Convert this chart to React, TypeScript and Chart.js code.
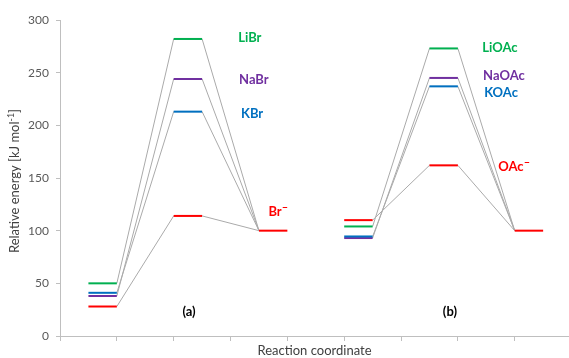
import React, { useEffect, useRef } from "react";
import { Chart, registerables } from "chart.js";

Chart.register(...registerables);

// ---- data ----
const speciesA = ["LiBr", "NaBr", "KBr", "Br"];
const speciesB = ["LiOAc", "NaOAc", "KOAc", "OAc"];
const anionSup = [false, false, false, true];
const reactantA = [50, 38, 41, 28];
const transitionA = [282, 244, 213, 114];
const productA = 100;
const reactantB = [104, 93, 94.5, 110];
const transitionB = [273, 245, 237, 162];
const productB = 100;
const colors = ["#00b050", "#7030a0", "#0070c0", "#ff0000"];
const yTickValues = [0, 50, 100, 150, 200, 250, 300];
const xTickValues = [0, 1, 2, 3, 4, 5, 6, 7, 8];

// stage extents along reaction coordinate (reactant, TS, product)
const stagesA = [[0.5, 1], [2, 2.5], [3.5, 4]];
const stagesB = [[5, 5.5], [6.5, 7], [8, 8.5]];

// label anchors (data units)
const labelXA = [3.34, 3.41, 3.38, 3.84];
const labelYA = [283, 243, 211, 118];
const labelXB = [7.74, 7.81, 7.76, 7.99];
const labelYB = [274, 247, 231, 161];
const panelX = [2.27, 6.86];
const panelY = [23, 23];
const panelText = ["(a)", "(b)"];

const FONT = "Lato, 'Open Sans', sans-serif";

function buildDatasets() {
  const ds: any[] = [];
  const groups = [
    { stages: stagesA, r: reactantA, t: transitionA, p: productA },
    { stages: stagesB, r: reactantB, t: transitionB, p: productB },
  ];
  groups.forEach((g) => {
    for (let i = 0; i < 4; i++) {
      ds.push({
        data: [
          { x: g.stages[0][0], y: g.r[i] },
          { x: g.stages[0][1], y: g.r[i] },
        ],
        borderColor: colors[i],
        borderWidth: 2,
        showLine: true,
        pointRadius: 0,
        order: i === 2 ? 0 : 1,
      });
      ds.push({
        data: [
          { x: g.stages[1][0], y: g.t[i] },
          { x: g.stages[1][1], y: g.t[i] },
        ],
        borderColor: colors[i],
        borderWidth: 2,
        showLine: true,
        pointRadius: 0,
        order: 1,
      });
    }
    ds.push({
      data: [
        { x: g.stages[2][0], y: g.p },
        { x: g.stages[2][1], y: g.p },
      ],
      borderColor: colors[3],
      borderWidth: 2,
      showLine: true,
      pointRadius: 0,
      order: 1,
    });
    for (let i = 0; i < 4; i++) {
      ds.push({
        data: [
          { x: g.stages[0][1], y: g.r[i] },
          { x: g.stages[1][0], y: g.t[i] },
          { x: g.stages[1][1], y: g.t[i] },
          { x: g.stages[2][0], y: g.p },
        ],
        borderColor: "#aaaaaa",
        borderWidth: 1,
        showLine: true,
        pointRadius: 0,
        order: 5,
      });
    }
  });
  return ds;
}

function drawSupText(
  ctx: CanvasRenderingContext2D,
  text: string,
  sup: string,
  cx: number,
  cy: number,
  size: number,
  bold: boolean,
  color: string,
  supSize: number,
  supRaise: number
) {
  const w = bold ? "bold " : "";
  ctx.font = `${w}${size}px ${FONT}`;
  const mw = ctx.measureText(text).width;
  ctx.font = `${w}${supSize}px ${FONT}`;
  const sw = sup ? ctx.measureText(sup).width : 0;
  const total = mw + sw;
  const x0 = cx - total / 2;
  ctx.fillStyle = color;
  ctx.textAlign = "left";
  ctx.textBaseline = "middle";
  ctx.font = `${w}${size}px ${FONT}`;
  ctx.fillText(text, x0, cy);
  if (sup) {
    ctx.font = `${w}${supSize}px ${FONT}`;
    ctx.fillText(sup, x0 + mw, cy - supRaise);
  }
}

const textPlugin = {
  id: "energyLabels",
  afterDraw(chart: any) {
    const ctx = chart.ctx as CanvasRenderingContext2D;
    const xs = chart.scales.x;
    const ys = chart.scales.y;
    ctx.save();
    for (let i = 0; i < 4; i++) {
      drawSupText(ctx, speciesA[i], anionSup[i] ? "–" : "",
        xs.getPixelForValue(labelXA[i]), ys.getPixelForValue(labelYA[i]),
        13, true, colors[i], 11, 4);
      drawSupText(ctx, speciesB[i], anionSup[i] ? "–" : "",
        xs.getPixelForValue(labelXB[i]), ys.getPixelForValue(labelYB[i]),
        13, true, colors[i], 11, 4);
    }
    for (let k = 0; k < 2; k++) {
      drawSupText(ctx, panelText[k], "",
        xs.getPixelForValue(panelX[k]), ys.getPixelForValue(panelY[k]),
        13, true, "#000000", 13, 0);
    }
    drawSupText(ctx, "Reaction coordinate", "",
      (chart.chartArea.left + chart.chartArea.right) / 2, 351,
      13, false, "#404040", 13, 0);
    ctx.save();
    ctx.translate(15, 181);
    ctx.rotate(-Math.PI / 2);
    ctx.font = `13px ${FONT}`;
    const a = "Relative energy [kJ mol";
    const b = "-1";
    const c = "]";
    const wa = ctx.measureText(a).width;
    const wc = ctx.measureText(c).width;
    ctx.font = `9px ${FONT}`;
    const wb = ctx.measureText(b).width;
    const tot = wa + wb + wc;
    let x = -tot / 2;
    ctx.fillStyle = "#404040";
    ctx.textAlign = "left";
    ctx.textBaseline = "middle";
    ctx.font = `13px ${FONT}`;
    ctx.fillText(a, x, 0);
    x += wa;
    ctx.font = `9px ${FONT}`;
    ctx.fillText(b, x, -4);
    x += wb;
    ctx.font = `13px ${FONT}`;
    ctx.fillText(c, x, 0);
    ctx.restore();
    ctx.restore();
  },
};

export default function App() {
  const ref = useRef<HTMLCanvasElement | null>(null);
  useEffect(() => {
    if (!ref.current) return;
    const chart = new Chart(ref.current, {
      type: "scatter",
      data: { datasets: buildDatasets() },
      options: {
        animation: false,
        responsive: false,
        devicePixelRatio: 1,
        layout: { padding: { left: 0, right: 0, top: 20, bottom: 0 } },
        plugins: {
          legend: { display: false },
          tooltip: { enabled: false },
        },
        scales: {
          x: {
            type: "linear",
            min: 0,
            max: 8.955,
            afterBuildTicks: (s: any) => {
              s.ticks = xTickValues.map((v) => ({ value: v }));
            },
            afterFit: (s: any) => {
              s.height = 22;
            },
            ticks: { display: false },
            grid: {
              drawOnChartArea: false,
              drawTicks: true,
              tickLength: 5,
              color: "#bfbfbf",
            },
            border: { display: true, color: "#bfbfbf", width: 1 },
          },
          y: {
            type: "linear",
            min: 0,
            max: 300,
            afterBuildTicks: (s: any) => {
              s.ticks = yTickValues.map((v) => ({ value: v }));
            },
            afterFit: (s: any) => {
              s.width = 60;
            },
            ticks: {
              padding: 7,
              color: "#595959",
              font: { family: FONT, size: 12 },
            },
            grid: {
              drawOnChartArea: false,
              drawTicks: true,
              tickLength: 4,
              color: "#bfbfbf",
            },
            border: { display: true, color: "#bfbfbf", width: 1 },
          },
        },
      },
      plugins: [textPlugin],
    });
    return () => chart.destroy();
  }, []);
  return (
    <div style={{ position: "absolute", left: 0, top: 0, width: 569, height: 358, background: "#fff" }}>
      <canvas ref={ref} width={569} height={358} />
    </div>
  );
}
